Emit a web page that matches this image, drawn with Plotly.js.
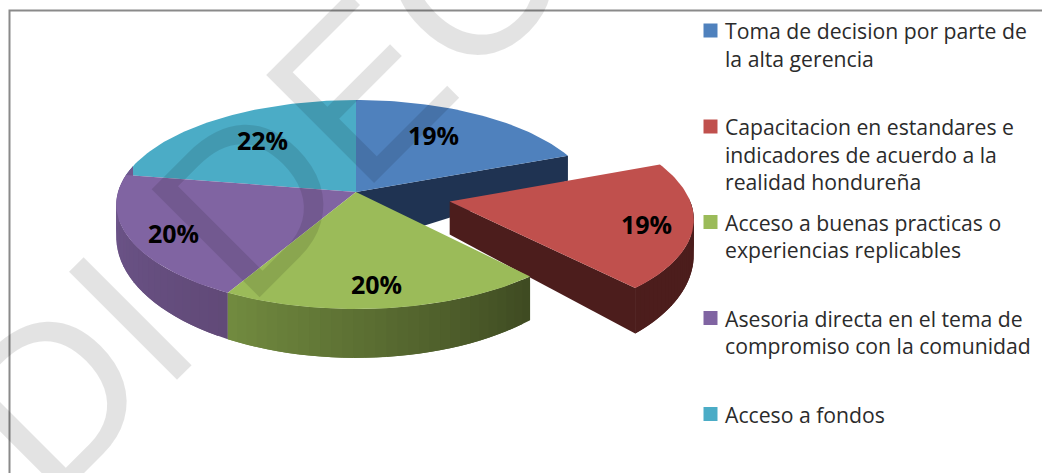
<!DOCTYPE html>
<html><head><meta charset="utf-8">
<script src="https://cdn.plot.ly/plotly-3.0.1.min.js"></script>
<style>html,body{margin:0;padding:0;background:#fff;overflow:hidden}</style>
</head><body><div id="chart" style="width:1042px;height:473px"></div>
<script>
const categories = ["Toma de decision por parte de<br>la alta gerencia",
  "Capacitacion en estandares e<br>indicadores de acuerdo a la<br>realidad hondureña",
  "Acceso a buenas practicas o<br>experiencias replicables",
  "Asesoria directa en el tema de<br>compromiso con la comunidad",
  "Acceso a fondos"];
const values = [19, 19.4, 19.6, 19.7, 22.3];
const pullOut = [0, 0.4, 0, 0, 0];
const colors = ["#4f81bd", "#c0504d", "#9bbb59", "#8064a2", "#4bacc6"];
const watermarkLetters = ["D", "I", "D", "E", "C"];
const watermarkAlong = [-110, 0, 168, 324, 480];

// projection of the tilted disc
const CX = 356, CY = 192, RX = 238, RY = 103, K = 0.12, A = 222.7, B = 119;
const TAU = Math.PI * 2, W = 1042, H = 473;
function proj(u, v, bottom) {
  const d = 1 + K * v;
  return [CX + RX * u / d, bottom ? A - B * v / d : CY - RY * v / d];
}
const total = values.reduce((a, b) => a + b, 0);
let acc = 0;
const slices = values.map((v, i) => {
  const a0 = acc / total * TAU; acc += v; const a1 = acc / total * TAU;
  const m = (a0 + a1) / 2;
  return {a0, a1, ou: pullOut[i] * Math.sin(m), ov: pullOut[i] * Math.cos(m), color: colors[i], i};
});
function pt(s, a, r, bottom) {
  return proj(r * Math.sin(a) + s.ou, r * Math.cos(a) + s.ov, bottom);
}
function poly(points, color) {
  const xs = points.map(p => p[0]).concat(points[0][0]);
  const ys = points.map(p => p[1]).concat(points[0][1]);
  return {type: "scatter", mode: "lines", x: xs, y: ys, fill: "toself", fillcolor: color,
    line: {width: 0}, hoverinfo: "skip", showlegend: false};
}
function face(s) {
  const p = [pt(s, 0, 0, false)];
  const n = 60;
  for (let j = 0; j <= n; j++) p.push(pt(s, s.a0 + (s.a1 - s.a0) * j / n, 1, false));
  return poly(p, s.color);
}
function mix(c1, c2, t) {
  const h = c => [1, 3, 5].map(i => parseInt(c.substr(i, 2), 16));
  const a = h(c1), b = h(c2);
  return "rgb(" + a.map((x, i) => Math.round(x + (b[i] - x) * t)).join(",") + ")";
}
function wall(s, from, to, c1, c2) {
  const out = [], n = 30;
  for (let j = 0; j < n; j++) {
    const a = from + (to - from) * j / n, b = from + (to - from) * Math.min(j + 2, n) / n;
    out.push(poly([pt(s, a, 1, false), pt(s, b, 1, false), pt(s, b, 1, true), pt(s, a, 1, true)],
      mix(c1, c2, j / (n - 1))));
  }
  return out;
}
function cut(s, a, color, apexDrop) {
  const c = pt(s, 0, 0, false);
  return poly([c, pt(s, a, 1, false), pt(s, a, 1, true), [c[0], c[1] + apexDrop]], color);
}
const [sB, sR, sG, sP, sC] = slices;
const deg = d => d / 360 * TAU;
const traces = [
  cut(sB, sB.a1, "#1f3352", 55),
  face(sB), face(sC),
  cut(sR, sR.a1, "#4c1d1c", 33),
  ...wall(sR, sR.a0 + deg(20), sR.a1, "#4c1d1c", "#4c1d1c"),
  face(sR),
  ...wall(sP, sP.a0, deg(285), "#614a78", "#70588f"),
  ...wall(sG, sG.a0, sG.a1, "#3f4b22", "#718a3f"),
  face(sP), face(sG)
];
// legend swatches
const legendY = [30.5, 126.5, 222, 318, 414];
traces.push({type: "scatter", mode: "markers", x: categories.map(() => 710.5), y: legendY,
  marker: {symbol: "square", size: 14, color: colors}, hoverinfo: "skip", showlegend: false});

const labelAt = [[433, 135], [646, 224], [376, 284], [173, 233], [262, 140]];
const annotations = [];
watermarkLetters.forEach((ch, i) => {
  const t = watermarkAlong[i] * Math.SQRT1_2;
  annotations.push({text: ch, x: (130 + t) / W, y: 1 - (318 - t) / H, xref: "paper", yref: "paper",
    showarrow: false, textangle: -45, xanchor: "center", yanchor: "middle",
    font: {family: "Liberation Sans", size: 222, color: "rgba(0,0,0,0.11)"}});
});
values.forEach((v, i) => annotations.push({text: Math.round(v / total * 100) + "%", x: labelAt[i][0], y: labelAt[i][1],
  xref: "x", yref: "y", showarrow: false, font: {family: "Open Sans", size: 25, color: "#000", weight: 700}}));
categories.forEach((c, i) => c.split("<br>").forEach((line, k) => annotations.push({
  text: line, x: 724, y: legendY[i] + k * 27.5, xref: "x", yref: "y",
  xanchor: "left", yanchor: "middle", align: "left", showarrow: false, borderpad: 0,
  font: {family: "Open Sans", size: 21.2, color: "#2b2b2b"}})));

Plotly.newPlot("chart", traces, {
  width: W, height: H, margin: {l: 0, r: 0, t: 0, b: 0},
  paper_bgcolor: "#fff", plot_bgcolor: "#fff", showlegend: false,
  xaxis: {range: [0, W], visible: false, fixedrange: true},
  yaxis: {range: [H, 0], visible: false, fixedrange: true},
  shapes: [{type: "rect", xref: "x", yref: "y", x0: 9.5, y0: 10.5, x1: 1100, y1: 520,
    line: {color: "#8a8a8a", width: 2}, layer: "below"}],
  annotations
}, {displayModeBar: false, staticPlot: true});
</script></body></html>
